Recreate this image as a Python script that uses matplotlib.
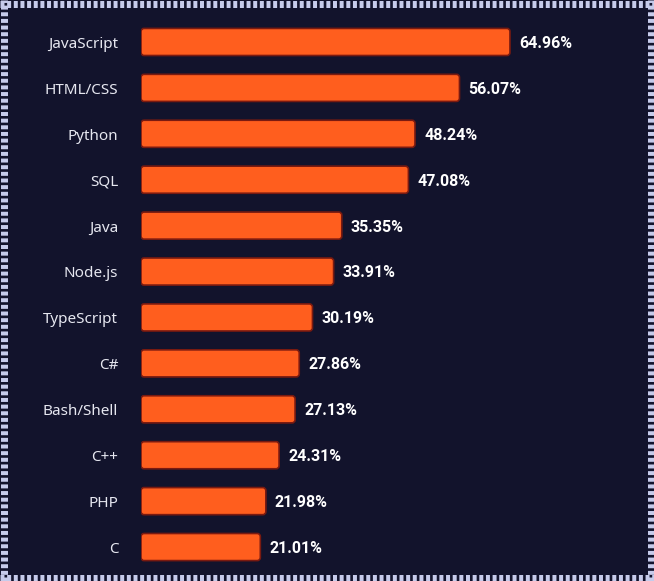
import matplotlib.pyplot as plt
from matplotlib.patches import FancyBboxPatch
from matplotlib.lines import Line2D

languages = ["JavaScript", "HTML/CSS", "Python", "SQL", "Java", "Node.js",
             "TypeScript", "C#", "Bash/Shell", "C++", "PHP", "C"]
shares = [64.96, 56.07, 48.24, 47.08, 35.35, 33.91,
          30.19, 27.86, 27.13, 24.31, 21.98, 21.01]

bg = "#12132c"
bar_color = "#ff5e1e"
edge_color = "#7a1a10"
frame_color = "#c6cbeb"

W, H = 654, 581
fig = plt.figure(figsize=(W / 100, H / 100), dpi=100, facecolor=bg)

# axes placed in pixels: x=0 at 141px, 5.68 px per percent, 45.9 px per row
x_max = 85
ax = fig.add_axes([141 / W, 11 / H, x_max * 5.68 / W, 551 / H])
ax.set_facecolor(bg)
ax.set_xlim(0, x_max)
ax.set_ylim(len(languages) - 0.5, -0.5)

ypos = list(range(len(languages)))
bars = ax.barh(ypos, shares, height=0.59, color="none")
aspect = 5.68 / 45.9
for b in bars:
    x0, y0 = b.get_x(), b.get_y()
    w, h = b.get_width(), b.get_height()
    ax.add_patch(FancyBboxPatch((x0, y0), w, h,
                                boxstyle="round,pad=0,rounding_size=0.55",
                                mutation_aspect=aspect,
                                facecolor=bar_color, edgecolor=edge_color,
                                linewidth=1.2))
    ax.text(x0 + w + 1.6, y0 + h / 2 + 0.03, f"{w:.2f}%", va="center",
            ha="left", color="white", fontsize=11.5, fontweight="bold",
            family="Roboto")

for y, name in zip(ypos, languages):
    ax.text(-4.0, y + 0.05, name, va="center", ha="right", color="#e6e7f0",
            fontsize=11, family="Noto Sans")

ax.set_xticks([])
ax.set_yticks([])
for s in ax.spines.values():
    s.set_visible(False)

# dashed frame around the picture
fr = fig.transFigure
pad = 3.5
lw = 7 * 0.72
dash = (0, (0.57, 0.38))
for xs, ys in [([0, W], [H - pad, H - pad]), ([0, W], [pad, pad]),
               ([pad, pad], [0, H]), ([W - pad, W - pad], [0, H])]:
    fig.add_artist(Line2D([v / W for v in xs], [v / H for v in ys],
                          transform=fr, color=frame_color, linewidth=lw,
                          linestyle=dash, solid_capstyle="butt",
                          dash_capstyle="butt"))

fig.savefig("out.png", dpi=100, facecolor=bg)
